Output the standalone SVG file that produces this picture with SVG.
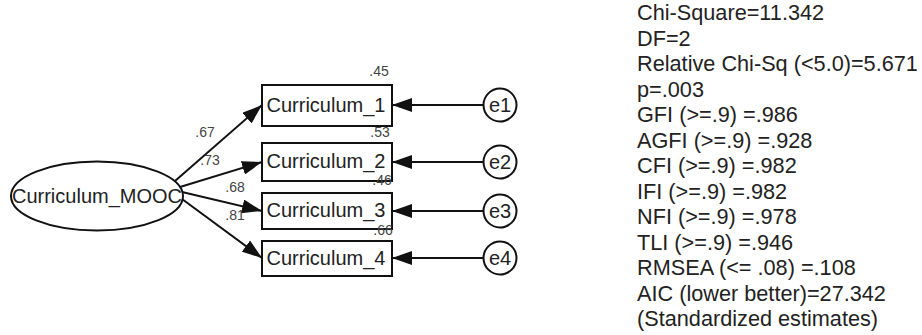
<svg xmlns="http://www.w3.org/2000/svg" width="922" height="335" viewBox="0 0 922 335">
<style>
.t{font-family:"Liberation Sans",Arial,sans-serif;font-size:20px;fill:#222}
.c{text-anchor:middle}
.lbl{font-family:"Liberation Sans",Arial,sans-serif;font-size:14px;fill:#444;text-anchor:middle}
.st{font-family:"Liberation Sans",Arial,sans-serif;font-size:21.7px;fill:#222}
.shape{fill:#fff;stroke:#111;stroke-width:2}
.conn{stroke:#111;stroke-width:2;fill:none;marker-end:url(#ah)}
</style>
<defs>
<marker id="ah" markerWidth="20" markerHeight="14" refX="20" refY="7" orient="auto" markerUnits="userSpaceOnUse">
<path d="M0,0 L20,7 L0,14 z" fill="#111"/>
</marker>
</defs>
<rect width="922" height="335" fill="#fff"/>
<g id="connectors">
<line class="conn" x1="175" y1="181" x2="262" y2="105"/>
<line class="conn" x1="180" y1="187" x2="262" y2="162"/>
<line class="conn" x1="182" y1="192" x2="262" y2="211"/>
<line class="conn" x1="182" y1="199" x2="262" y2="258"/>
<line class="conn" x1="483.5" y1="105" x2="392" y2="105"/>
<line class="conn" x1="483.5" y1="162" x2="392" y2="162"/>
<line class="conn" x1="483.5" y1="211" x2="392" y2="211"/>
<line class="conn" x1="483.5" y1="258" x2="392" y2="258"/>
</g>
<g id="Curriculum_MOOC">
<ellipse class="shape" cx="97" cy="196" rx="86" ry="34.5"/>
<text class="t c" x="97" y="203">Curriculum_MOOC</text>
</g>
<g id="Curriculum_1">
<rect class="shape" x="262" y="85" width="130" height="41"/>
<text class="t c" x="326" y="112">Curriculum_1</text>
</g>
<g id="Curriculum_2">
<rect class="shape" x="262" y="143" width="130" height="38"/>
<text class="t c" x="326" y="168">Curriculum_2</text>
</g>
<g id="Curriculum_3">
<rect class="shape" x="262" y="193" width="130" height="36"/>
<text class="t c" x="326" y="217">Curriculum_3</text>
</g>
<g id="Curriculum_4">
<rect class="shape" x="262" y="241" width="130" height="35"/>
<text class="t c" x="326" y="265">Curriculum_4</text>
</g>
<g id="e1"><circle class="shape" cx="500" cy="105" r="16.5"/><text class="t c" x="500" y="112">e1</text></g>
<g id="e2"><circle class="shape" cx="500" cy="162" r="16.5"/><text class="t c" x="500" y="169">e2</text></g>
<g id="e3"><circle class="shape" cx="500" cy="211" r="16.5"/><text class="t c" x="500" y="218">e3</text></g>
<g id="e4"><circle class="shape" cx="500" cy="258" r="16.5"/><text class="t c" x="500" y="265">e4</text></g>
<g id="labels">
<text class="lbl" x="205" y="137">.67</text>
<text class="lbl" x="210" y="165">.73</text>
<text class="lbl" x="235" y="192">.68</text>
<text class="lbl" x="235" y="220">.81</text>
<text class="lbl" x="379" y="76">.45</text>
<text class="lbl" x="380" y="137">.53</text>
<text class="lbl" x="382" y="185">.46</text>
<text class="lbl" x="383" y="235">.66</text>
</g>
<g id="stats">
<text class="st" x="637" y="20">Chi-Square=11.342</text>
<text class="st" x="637" y="45.5">DF=2</text>
<text class="st" x="637" y="71">Relative Chi-Sq (&lt;5.0)=5.671</text>
<text class="st" x="637" y="96.5">p=.003</text>
<text class="st" x="637" y="122">GFI (&gt;=.9) =.986</text>
<text class="st" x="637" y="147.5">AGFI (&gt;=.9) =.928</text>
<text class="st" x="637" y="173">CFI (&gt;=.9) =.982</text>
<text class="st" x="637" y="198.5">IFI (&gt;=.9) =.982</text>
<text class="st" x="637" y="224">NFI (&gt;=.9) =.978</text>
<text class="st" x="637" y="249.5">TLI (&gt;=.9) =.946</text>
<text class="st" x="637" y="275">RMSEA (&lt;= .08) =.108</text>
<text class="st" x="637" y="300.5">AIC (lower better)=27.342</text>
<text class="st" x="637" y="326">(Standardized estimates)</text>
</g>
</svg>
